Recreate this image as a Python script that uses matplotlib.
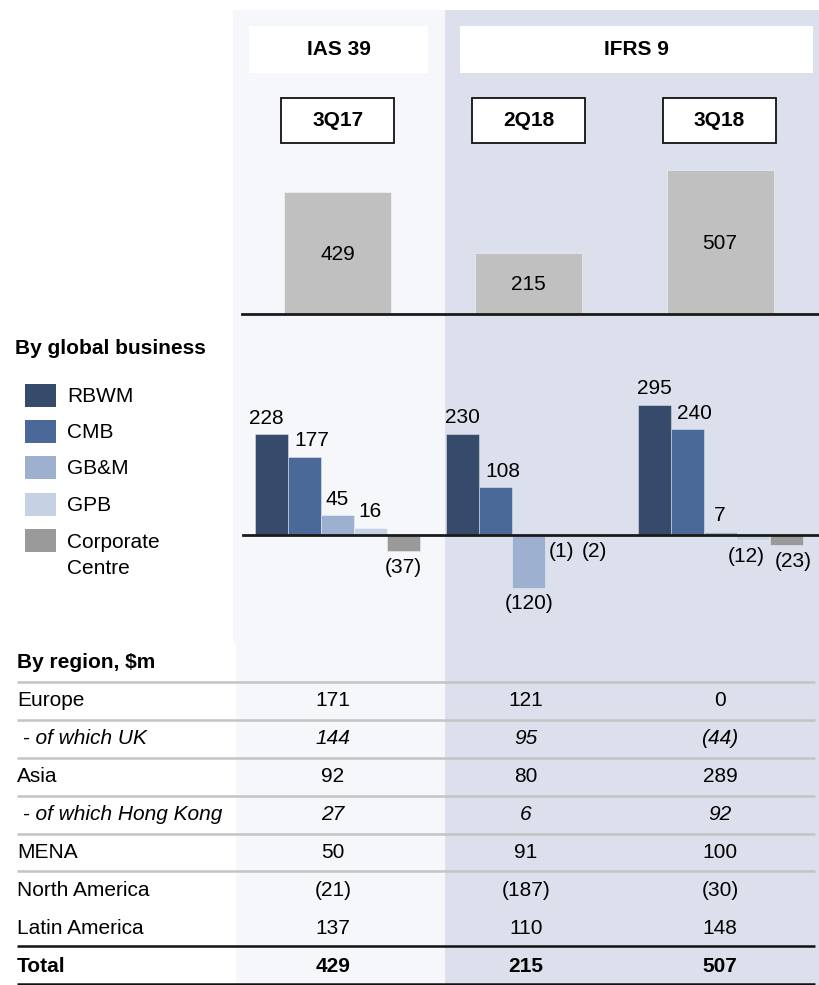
import matplotlib
matplotlib.use("Agg")
import matplotlib.pyplot as plt
from matplotlib.patches import Rectangle

plt.rcParams['font.family'] = ['Liberation Sans', 'DejaVu Sans']

# ---------------- data ----------------
periods = ["3Q17", "2Q18", "3Q18"]
standards = ["IAS 39", "IFRS 9"]
total_pbt = [429, 215, 507]

businesses = ["RBWM", "CMB", "GB&M", "GPB", "Corporate\nCentre"]
rbwm = [228, 230, 295]
cmb = [177, 108, 240]
gbm = [45, -120, 7]
gpb = [16, -1, -12]
corp = [-37, -2, -23]

regions = ["Europe", " - of which UK", "Asia", " - of which Hong Kong", "MENA",
           "North America", "Latin America", "Total"]
reg_3q17 = [171, 144, 92, 27, 50, -21, 137, 429]
reg_2q18 = [121, 95, 80, 6, 91, -187, 110, 215]
reg_3q18 = [0, -44, 289, 92, 100, -30, 148, 507]

# ---------------- style ----------------
W, H = 820, 985
FS = 15
C_LIGHT = "#f6f7fa"
C_DARK = "#dbe0ec"
biz_colors = ["#364b6c", "#4a6999", "#9db0d0", "#c6d1e4", "#9a9a9a"]
C_TOP = "#c0c0c0"
# horizontal nudges (pixels) for bar value labels, per series / period
label_dx = [[-5, 0, 0], [7, 7, 7], [0, 0, 0], [0, 0, -7], [0, 0, 7]]

fig = plt.figure(figsize=(W / 100, H / 100), dpi=100)
bg = fig.add_axes([0, 0, 1, 1])
bg.set_xlim(0, W)
bg.set_ylim(H, 0)
bg.axis("off")

# panels
bg.add_patch(Rectangle((233, 10), 445 - 233, 643 - 10, color=C_LIGHT, lw=0))
bg.add_patch(Rectangle((236, 643), 445 - 236, H - 643, color=C_LIGHT, lw=0))
bg.add_patch(Rectangle((445, 10), W - 445, H - 10, color=C_DARK, lw=0))

# header boxes
bg.add_patch(Rectangle((249, 26), 428 - 249, 47, color="white", lw=0))
bg.add_patch(Rectangle((460, 26), 813 - 460, 47, color="white", lw=0))
bg.text(338.5, 49.5, standards[0], ha="center", va="center", fontsize=FS, fontweight="bold")
bg.text(636.5, 49.5, standards[1], ha="center", va="center", fontsize=FS, fontweight="bold")

centers_px = [338, 529, 719.5]
for cx, p in zip(centers_px, periods):
    bg.add_patch(Rectangle((cx - 56.5, 98), 113, 45, facecolor="white",
                           edgecolor="#111111", lw=1.3))
    bg.text(cx, 120.5, p, ha="center", va="center", fontsize=FS, fontweight="bold")

# ---------------- top bar chart ----------------
X0, X1 = 233, 820
UNIT = 191.25
C0 = 337.5
xlim = ((X0 - C0) / UNIT, (X1 - C0) / UNIT)

def add_axes_px(ytop, ybot):
    ax = fig.add_axes([X0 / W, 1 - ybot / H, (X1 - X0) / W, (ybot - ytop) / H])
    ax.set_xlim(*xlim)
    ax.patch.set_visible(False)
    ax.axis("off")
    return ax

TOP_SCALE = 3.53
ax_top = add_axes_px(150, 313.5)
ax_top.set_ylim(0, (313.5 - 150) * TOP_SCALE)
xs = list(range(len(periods)))
ax_top.bar(xs, total_pbt, width=107 / UNIT, color=C_TOP, edgecolor=(1, 1, 1, 0.5), lw=0.6)
for x, v in zip(xs, total_pbt):
    ax_top.annotate(f"{v}", (x, v / 2), xytext=(0, -1.5), textcoords="offset pixels",
                    ha="center", va="center", fontsize=FS)
ax_top.axhline(0, xmin=(242 - X0) / (X1 - X0), xmax=1, color="#1a1a1a", lw=2, clip_on=False)

# ---------------- by global business ----------------
BOT_SCALE = 2.267
ax_b = add_axes_px(375, 645)
ax_b.set_ylim(-(645 - 535) * BOT_SCALE, (535 - 375) * BOT_SCALE)
bw = 33 / UNIT
series = [rbwm, cmb, gbm, gpb, corp]
for i, (vals, col) in enumerate(zip(series, biz_colors)):
    pos = [x + (i - 2) * bw for x in xs]
    ax_b.bar(pos, vals, width=bw, color=col, edgecolor=(1, 1, 1, 0.45), lw=0.6)
    for j, (px_, v) in enumerate(zip(pos, vals)):
        dx = label_dx[i][j]
        if v >= 0:
            ax_b.annotate(f"{v}", (px_, v), xytext=(dx, 16), textcoords="offset pixels",
                          ha="center", va="center", fontsize=FS)
        else:
            ax_b.annotate(f"({-v})", (px_, v), xytext=(dx, -16), textcoords="offset pixels",
                          ha="center", va="center", fontsize=FS)
ax_b.axhline(0, xmin=(243 - X0) / (X1 - X0), xmax=1, color="#1a1a1a", lw=2, clip_on=False)

# legend
bg.text(15, 348, "By global business", ha="left", va="center", fontsize=FS, fontweight="bold")
leg_y = [395.5, 431.5, 467.5, 504, 540.5]
for y, col, name in zip(leg_y, biz_colors, businesses):
    bg.add_patch(Rectangle((25, y - 11.5), 31, 23, color=col, lw=0))
    if "\n" in name:
        a, b = name.split("\n")
        bg.text(67, y + 1.5, a, ha="left", va="center", fontsize=FS)
        bg.text(67, y + 28.5, b, ha="left", va="center", fontsize=FS)
    else:
        bg.text(67, y + 1.5, name, ha="left", va="center", fontsize=FS)

# ---------------- table ----------------
bg.text(17, 663, "By region, $m", ha="left", va="center", fontsize=FS, fontweight="bold")
row_y = [701, 739, 777, 815, 853, 890, 928, 966]
col_x = [333, 526, 720]
fmt = lambda v: f"({-v})" if v < 0 else f"{v}"
for r, (name, y) in enumerate(zip(regions, row_y)):
    style = "italic" if "of which" in name else "normal"
    weight = "bold" if name == "Total" else "normal"
    bg.text(17, y, name, ha="left", va="center", fontsize=FS, fontstyle=style, fontweight=weight)
    for cx, col in zip(col_x, [reg_3q17, reg_2q18, reg_3q18]):
        bg.text(cx, y, fmt(col[r]), ha="center", va="center", fontsize=FS,
                fontstyle=style, fontweight=weight)

for y in [682, 720, 758, 796, 834, 871]:
    bg.plot([17, 815], [y, y], color="#c4c4c4", lw=1.8, solid_capstyle="butt")
for y in [946, 983.5]:
    bg.plot([17, 815], [y, y], color="#111111", lw=1.8, solid_capstyle="butt")

fig.savefig("out.png", dpi=100)
